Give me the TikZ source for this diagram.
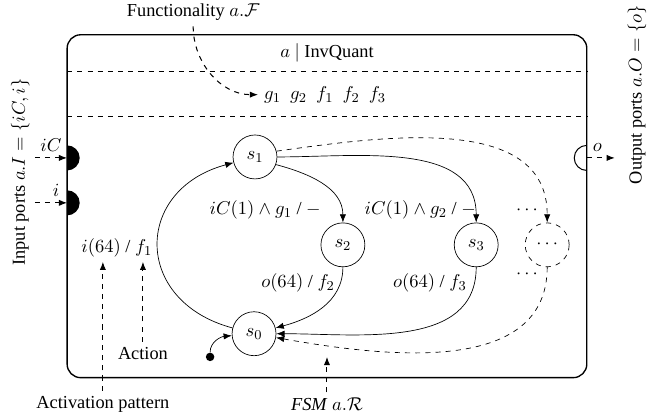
\documentclass[tikz,border=0pt]{standalone}
\usepackage{fontspec}
\setmainfont{Liberation Serif}
\usetikzlibrary{arrows.meta,positioning,calc}

\begin{document}
\begin{tikzpicture}[
    >={Latex[length=1.7mm,width=1.3mm]},
    every node/.style={font=\fontsize{10.8}{13}\selectfont},
    state/.style={circle, draw, minimum size=0.91cm, inner sep=0pt},
    ghost/.style={state, dashed},
    note/.style={dashed, ->, semithick},
    trans/.style={->},
]
\useasboundingbox (0,0) rectangle (13.5,8.61);

% Actor box
\draw[thick, rounded corners=8pt] (1.39,0.79) rectangle (12.15,7.89);
\coordinate (secAL) at (1.39,7.12);
\coordinate (secAR) at (12.15,7.12);
\coordinate (secBL) at (1.39,6.19);
\coordinate (secBR) at (12.15,6.19);
\draw[dashed, semithick] (secAL) -- (secAR);
\draw[dashed, semithick] (secBL) -- (secBR);

\node (head) at (6.77,7.52) {$a$ $\mid$ InvQuant};
\node (funcs) at (6.73,6.65) {$g_1\ \ g_2\ \ f_1\ \ f_2\ \ f_3$};

% Functionality
\node (functext) at (4.0,8.36) {Functionality $a.\mathcal{F}$};
\draw[note] (functext.south) to[out=-90,in=180] (funcs.west);

% Input ports
\coordinate (iCport) at (1.39,5.34);
\coordinate (iport) at (1.39,4.41);
\fill (iCport) ++(0,0.26) arc[start angle=90, end angle=-90, radius=0.26] -- cycle;
\fill (iport) ++(0,0.26) arc[start angle=90, end angle=-90, radius=0.26] -- cycle;
\coordinate (iCin) at (0.72,5.34);
\coordinate (iin) at (0.72,4.41);
\draw[note] (iCin) -- (iCport) node[midway, above] {$iC$};
\draw[note] (iin) -- (iport) node[midway, above, xshift=3pt] {$i$};
\node[rotate=90] (inlabel) at (0.42,5.05) {Input ports $a.I = \{iC, i\}$};

% Output port
\coordinate (oport) at (12.15,5.34);
\draw[semithick] (oport) ++(0,0.26) arc[start angle=90, end angle=270, radius=0.26];
\coordinate (oout) at (12.73,5.34);
\draw[note] (oport) -- (oout) node[midway, above, xshift=-2pt] {$o$};
\node[rotate=90] (outlabel) at (13.19,6.65) {Output ports $a.O = \{o\}$};

% FSM states
\node[state] (s1) at (5.28,5.36) {$s_1$};
\node[state] (s2) at (7.10,3.54) {$s_2$};
\node[state] (s0) at (5.26,1.70) {$s_0$};
\node[state] (s3) at (9.86,3.54) {$s_3$};
\node[ghost] (sx) at (11.33,3.54) {$\cdots$};

% Transitions
\draw[trans] (s0.165) to[out=165,in=195,looseness=1.6] (s1.195);
\draw[trans] (s1.-20) to[out=-15,in=90] (s2.north);
\draw[trans] (s1.east) to[out=0,in=90] (s3.north);
\draw[trans, dashed] (s1.15) to[out=8,in=90] (sx.north);
\draw[trans] (s2.south) to[out=-90,in=15] (s0.15);
\draw[trans] (s3.south) to[out=-90,in=0] (s0.east);
\draw[trans, dashed] (sx.south) to[out=-90,in=-10] (s0.-10);

% Initial state
\node[circle, fill, inner sep=0pt, minimum size=5pt] (init) at (4.35,1.22) {};
\draw[trans] (init) to[out=90,in=185] (s0.185);

% Labels
\node (lab10) at (2.42,3.48) {$i(64)$ / $f_1$};
\node (lab12) at (5.49,4.26) {$iC(1) \wedge g_1$ / $-$};
\node (lab13) at (8.70,4.26) {$iC(1) \wedge g_2$ / $-$};
\node (lab20) at (6.17,2.75) {$o(64)$ / $f_2$};
\node (lab30) at (8.90,2.75) {$o(64)$ / $f_3$};
\node (moreA) at (10.91,4.26) {$\cdots$};
\node (moreB) at (10.91,2.92) {$\cdots$};

% Annotations
\node (action) at (2.96,1.28) {Action};
\coordinate (actiontip) at (2.96,3.19);
\draw[note] (action.north -| actiontip) -- (actiontip);

\node (actpat) at (2.13,0.23) {Activation pattern};
\coordinate (actpattip) at (2.13,3.19);
\draw[note] (actpat.north -| actpattip) -- (actpattip);

\node (fsm) at (6.77,0.23) {\textit{FSM} $a.\mathcal{R}$};
\coordinate (fsmtip) at (6.77,1.22);
\draw[note] (fsm.north) -- (fsmtip);

\end{tikzpicture}
\end{document}
